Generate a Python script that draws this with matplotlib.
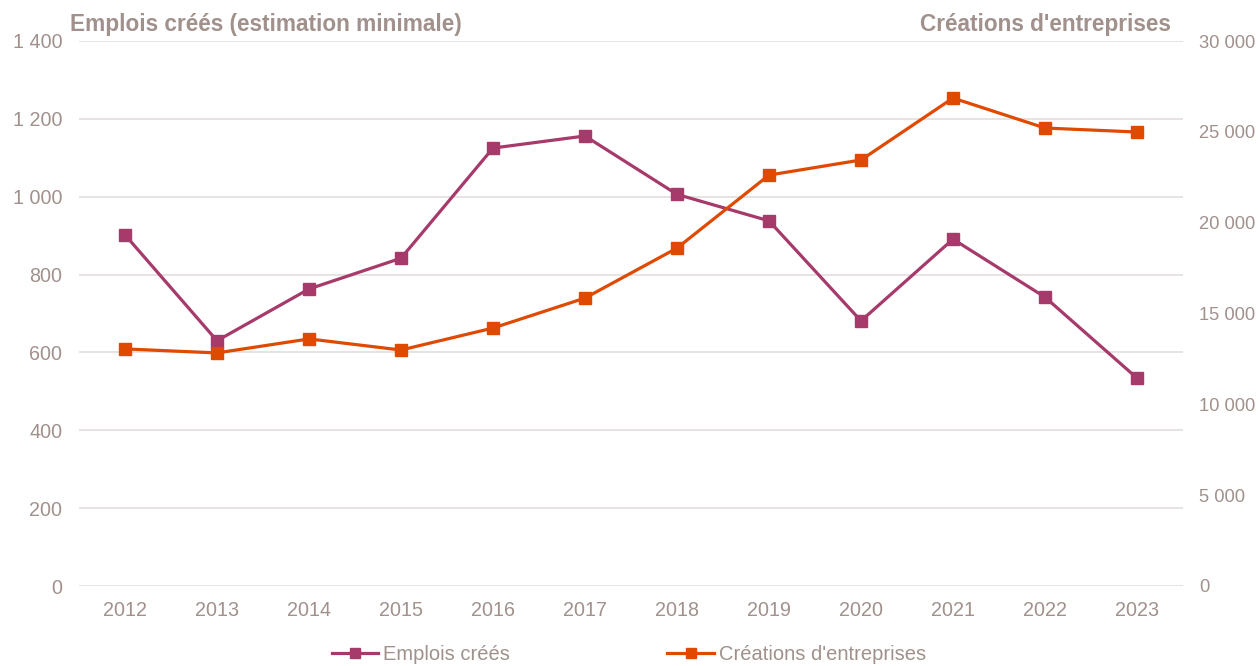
import numpy as np
import matplotlib.pyplot as plt
from matplotlib.ticker import FuncFormatter

# Daten
annees = ['2012', '2013', '2014', '2015', '2016', '2017', '2018', '2019',
          '2020', '2021', '2022', '2023']
emplois = [902, 630, 763, 842, 1125, 1156, 1006, 938, 681, 891, 742, 534]
creations = [13050, 12830, 13600, 12990, 14200, 15850, 18600, 22620,
             23450, 26860, 25210, 24990]

c_emp = '#A63A6A'
c_cre = '#DF4A00'
c_txt = '#A0918C'
c_grid = '#E3DEDE'

plt.rcParams['font.family'] = ['Liberation Sans', 'DejaVu Sans']

fig = plt.figure(figsize=(12.58, 6.66), dpi=100)
ax1 = fig.add_axes([79 / 1258, 80 / 666, 1104 / 1258, 545 / 666])
ax2 = ax1.twinx()

x = np.arange(len(annees))

l1, = ax1.plot(x, emplois, color=c_emp, lw=2.3, marker='s', ms=9.3,
               label='Emplois créés', zorder=3)
l2, = ax2.plot(x, creations, color=c_cre, lw=2.3, marker='s', ms=9.3,
               label="Créations d'entreprises", zorder=3)

ax1.set_xlim(-0.5, len(annees) - 0.5)
ax1.set_ylim(0, 1400)
ax2.set_ylim(0, 30000)
ax1.set_yticks(np.arange(0, 1401, 200))
ax2.set_yticks(np.arange(0, 30001, 5000))

fmt = FuncFormatter(lambda v, p: f'{int(v):,}'.replace(',', ' '))
ax1.yaxis.set_major_formatter(fmt)
ax2.yaxis.set_major_formatter(fmt)

ax1.set_xticks(x)
ax1.set_xticklabels(annees)

ax1.grid(axis='y', color=c_grid, lw=1.2)
ax1.set_axisbelow(True)
for a in (ax1, ax2):
    for s in a.spines.values():
        s.set_visible(False)
    a.tick_params(length=0, colors=c_txt, labelsize=14.2)
ax1.tick_params(axis='y', pad=12)
ax1.tick_params(axis='x', pad=11)
ax2.tick_params(axis='y', pad=11.5, labelsize=13.2)

# Titel der Achsen
fig.text(70 / 1258, 1 - 25 / 666, 'Emplois créés (estimation minimale)',
         color=c_txt, fontsize=16.3, fontweight='bold', ha='left', va='center')
fig.text(1171 / 1258, 1 - 25 / 666, "Créations d'entreprises",
         color=c_txt, fontsize=16.3, fontweight='bold', ha='right', va='center')

leg = fig.legend([l1, l2], ['Emplois créés', "Créations d'entreprises"],
                 loc='center', bbox_to_anchor=(0.5, 1 - 655 / 666), ncol=2,
                 frameon=False, fontsize=14.5, columnspacing=7.8,
                 handlelength=2.3, handletextpad=0.25, labelcolor=c_txt,
                 markerscale=0.85)

fig.savefig('out.png', dpi=100)
